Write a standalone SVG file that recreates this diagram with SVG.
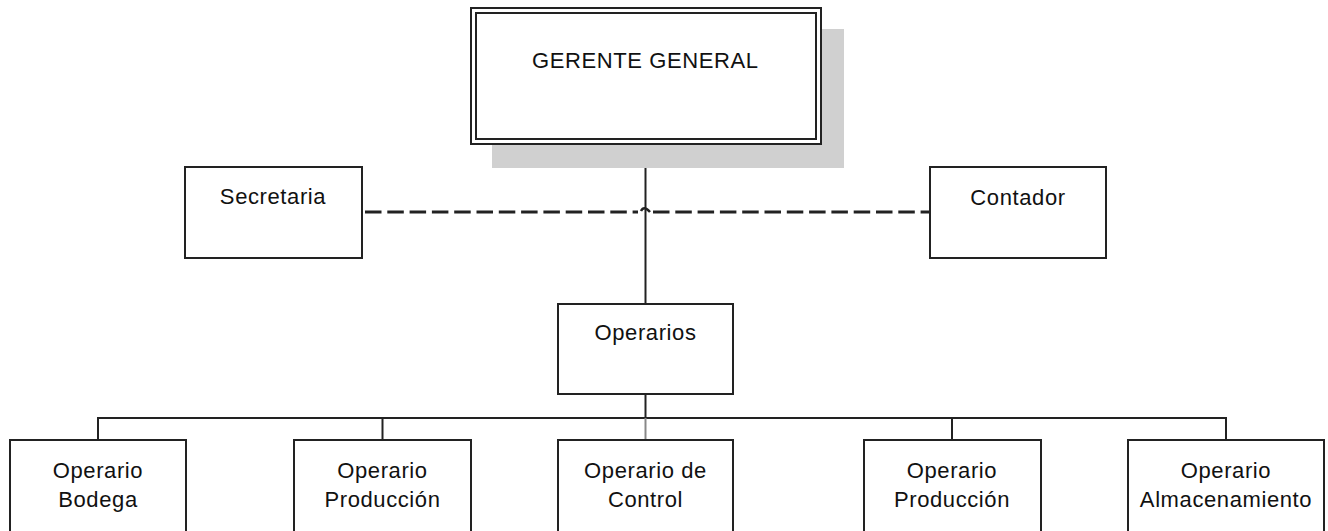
<svg xmlns="http://www.w3.org/2000/svg" width="1328" height="531" viewBox="0 0 1328 531">
<style>
.box{fill:#fff;stroke:#222;stroke-width:2}
.t{font-family:"Liberation Sans",Arial,sans-serif;font-size:22px;fill:#111;text-anchor:middle}
.ts{letter-spacing:0.6px}
.ln{fill:none;stroke:#222;stroke-width:2}
</style>
<rect width="1328" height="531" fill="#fff"/>
<g id="connectors">
<line class="ln" x1="645.5" y1="145" x2="645.5" y2="304" stroke-width="2.5"/>
<path d="M365 212 H638" fill="none" stroke="#222" stroke-width="3" stroke-dasharray="16.5 5.8"/>
<path d="M641 211 Q644 205 650 212" fill="none" stroke="#222" stroke-width="2.5"/>
<path d="M653 212 H930" fill="none" stroke="#222" stroke-width="3" stroke-dasharray="16.5 5.8"/>
<line class="ln" x1="645.5" y1="394" x2="645.5" y2="418" stroke-width="2.5"/>
<line class="ln" x1="97" y1="418" x2="1227" y2="418"/>
<line class="ln" x1="98" y1="418" x2="98" y2="440"/>
<line class="ln" x1="382.5" y1="418" x2="382.5" y2="440"/>
<line x1="645.5" y1="418" x2="645.5" y2="440" stroke="#888" stroke-width="2"/>
<line class="ln" x1="952" y1="418" x2="952" y2="440"/>
<line class="ln" x1="1226" y1="418" x2="1226" y2="440"/>
</g>
<g id="gerente">
<rect x="492" y="29" width="352" height="139" fill="#d0d0d0"/>
<rect x="471" y="8" width="350" height="136" fill="#fff" stroke="#222" stroke-width="2"/>
<rect x="476" y="13" width="340" height="126" fill="none" stroke="#222" stroke-width="2"/>
<text class="t" x="645" y="68" textLength="226">GERENTE GENERAL</text>
</g>
<g id="secretaria">
<rect class="box" x="185" y="167" width="177" height="91"/>
<text class="t ts" x="273" y="204">Secretaria</text>
</g>
<g id="contador">
<rect class="box" x="930" y="167" width="176" height="91"/>
<text class="t ts" x="1018" y="205">Contador</text>
</g>
<g id="operarios">
<rect class="box" x="558" y="304" width="175" height="90"/>
<text class="t ts" x="645.5" y="340">Operarios</text>
</g>
<g id="op-bodega">
<rect class="box" x="10" y="440" width="176" height="100"/>
<text class="t ts" x="98" y="478">Operario</text>
<text class="t ts" x="98" y="507">Bodega</text>
</g>
<g id="op-produccion-1">
<rect class="box" x="294" y="440" width="177" height="100"/>
<text class="t ts" x="382.5" y="478">Operario</text>
<text class="t ts" x="382.5" y="507">Producción</text>
</g>
<g id="op-control">
<rect class="box" x="558" y="440" width="175" height="100"/>
<text class="t ts" x="645.5" y="478">Operario de</text>
<text class="t ts" x="645.5" y="507">Control</text>
</g>
<g id="op-produccion-2">
<rect class="box" x="864" y="440" width="177" height="100"/>
<text class="t ts" x="952" y="478">Operario</text>
<text class="t ts" x="952" y="507">Producción</text>
</g>
<g id="op-almacenamiento">
<rect class="box" x="1128" y="440" width="196" height="100"/>
<text class="t ts" x="1226" y="478">Operario</text>
<text class="t ts" x="1226" y="507">Almacenamiento</text>
</g>
</svg>
